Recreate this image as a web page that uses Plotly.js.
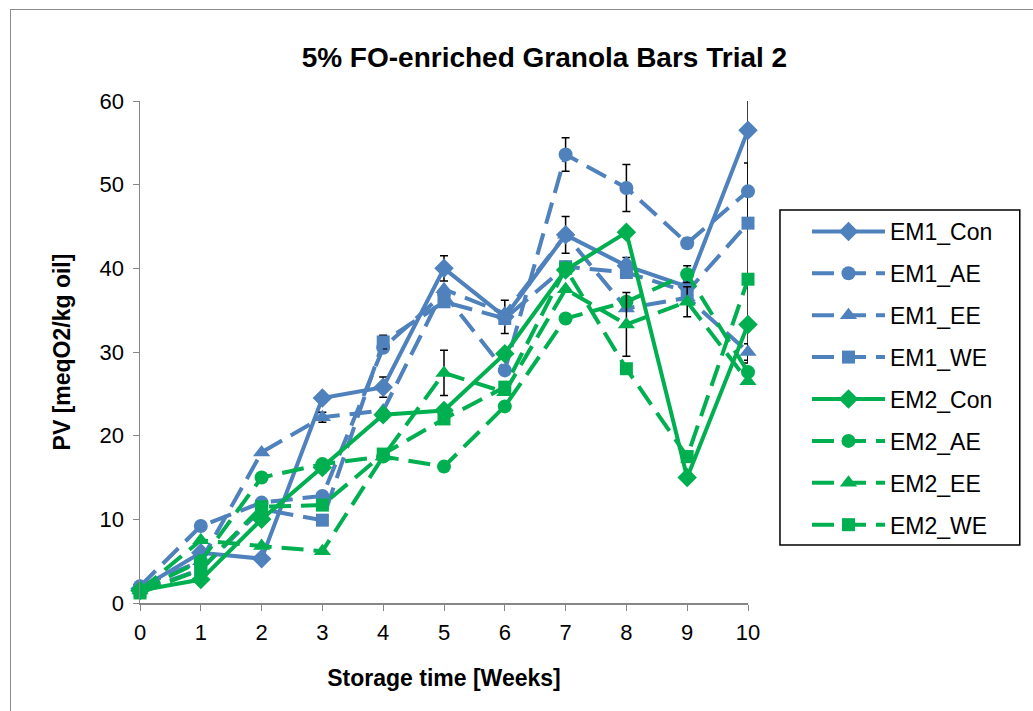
<!DOCTYPE html>
<html>
<head>
<meta charset="utf-8">
<script src="https://cdn.plot.ly/plotly-3.0.1.min.js"></script>
<style>
  html, body { margin: 0; padding: 0; background: #fff; }
  #wrap { position: relative; width: 1033px; height: 711px; overflow: hidden; }
  #chart { width: 1033px; height: 711px; }
  #frame { position: absolute; left: 10px; top: 9px; width: 1200px; height: 900px;
           border: 1px solid #8c8c8c; pointer-events: none; }
</style>
</head>
<body>
<div id="wrap"><div id="chart"></div><div id="frame"></div></div>
<script>
const weeks = [0, 1, 2, 3, 4, 5, 6, 7, 8, 9, 10];
const seriesNames = ["EM1_Con", "EM1_AE", "EM1_EE", "EM1_WE", "EM2_Con", "EM2_AE", "EM2_EE", "EM2_WE"];

const em1Con = [1.7, 6.0, 5.3, 24.5, 25.8, 40.0, 34.2, 44.0, 40.3, 37.8, 56.5];
const em1AE  = [2.0, 9.2, 12.0, 12.8, 30.5, 37.0, 27.8, 53.6, 49.6, 43.0, 49.2];
const em1EE  = [2.0, 5.0, 18.0, 22.2, 23.0, 37.5, 34.6, 44.0, 35.2, 36.5, 30.0];
const em1WE  = [1.5, 4.0, 11.2, 9.9, 31.2, 36.0, 34.0, 40.2, 39.5, 37.2, 45.4];
const em2Con = [1.5, 2.8, 10.0, 16.2, 22.5, 23.0, 29.8, 39.8, 44.3, 15.0, 33.3];
const em2AE  = [1.5, 5.0, 15.0, 16.6, 17.5, 16.3, 23.5, 34.0, 36.0, 39.3, 27.6];
const em2EE  = [1.5, 7.5, 6.8, 6.2, 17.5, 27.5, 25.2, 37.5, 33.3, 36.0, 26.5];
const em2WE  = [1.2, 4.0, 11.5, 11.7, 17.8, 22.0, 25.8, 40.0, 28.0, 17.5, 38.7];

const em1ConErr = [0, 0, 0, 0.5, 1.2, 1.5, 2.0, 2.2, 1.0, 0.8, 27.8];
const em1AEErr  = [0, 0, 0, 0, 0, 0, 0, 2.0, 2.8, 0.6, 3.4];
const em1EEErr  = [0, 0, 0, 0.6, 0, 0, 0, 0, 0, 0, 1.0];
const em1WEErr  = [0, 0, 0, 0, 0.8, 0, 0, 0, 0, 0, 0];
const em2ConErr = [0, 0, 0, 0.6, 0.6, 0, 0, 0, 0, 0, 0];
const em2AEErr  = [0, 0, 0.5, 0, 0, 0.5, 0, 0, 0, 1.0, 0];
const em2EEErr  = [0, 0, 0, 0, 0, 2.7, 0, 0, 3.8, 1.8, 0];
const em2WEErr  = [0, 0, 0, 0.5, 0, 0, 0, 0.5, 0, 0, 0];

const values = [em1Con, em1AE, em1EE, em1WE, em2Con, em2AE, em2EE, em2WE];
const errors = [em1ConErr, em1AEErr, em1EEErr, em1WEErr, em2ConErr, em2AEErr, em2EEErr, em2WEErr];

const BLUE = "#4f81bd";
const GREEN = "#00b050";
const colors = [BLUE, BLUE, BLUE, BLUE, GREEN, GREEN, GREEN, GREEN];
const symbols = ["diamond", "circle", "triangle-up", "square", "diamond", "circle", "triangle-up", "square"];
const sizes = [15, 14, 15, 13, 15, 14, 15, 13];
const dashes = ["solid", "22px,10px", "22px,10px", "22px,10px", "solid", "22px,10px", "22px,10px", "22px,10px"];

const traces = seriesNames.map((name, i) => ({
  type: "scatter",
  mode: "lines+markers",
  name: name,
  legendgroup: "g" + i,
  x: weeks,
  y: values[i],
  cliponaxis: false,
  line: { color: colors[i], width: 4, dash: dashes[i] },
  marker: { color: colors[i], symbol: symbols[i], size: sizes[i] },
  error_y: { type: "data", array: errors[i], visible: true, color: "#000", thickness: 1.5, width: 4 }
}));

const font = "'Liberation Sans', Arial, sans-serif";

const layout = {
  width: 1033,
  height: 711,
  margin: { l: 140, r: 285, t: 101, b: 108 },
  paper_bgcolor: "#fff",
  plot_bgcolor: "#fff",
  font: { family: font, color: "#000", size: 22 },
  showlegend: true,
  title: {
    text: "<b>5% FO-enriched Granola Bars Trial 2</b>",
    font: { family: font, size: 28, color: "#000" },
    x: 0.527, xanchor: "center", xref: "container",
    y: 0.92, yanchor: "middle", yref: "container"
  },
  xaxis: {
    range: [0, 10],
    tickmode: "array",
    tickvals: weeks,
    ticktext: weeks.map(String),
    showgrid: false,
    zeroline: false,
    showline: true,
    linecolor: "#868686",
    linewidth: 1.5,
    ticks: "outside",
    ticklen: 6,
    tickcolor: "#868686",
    ticklabelstandoff: 3,
    tickfont: { family: font, size: 22, color: "#000" },
    title: { text: "<b>Storage time [Weeks]</b>", font: { family: font, size: 23, color: "#000" }, standoff: 26 }
  },
  yaxis: {
    range: [0, 60],
    tickmode: "linear",
    tick0: 0,
    dtick: 10,
    showgrid: false,
    zeroline: false,
    showline: true,
    linecolor: "#868686",
    linewidth: 1.5,
    ticks: "outside",
    ticklen: 6,
    tickcolor: "#868686",
    ticklabelstandoff: 4,
    tickfont: { family: font, size: 22, color: "#000" },
    title: { text: "<b>PV [meqO2/kg oil]</b>", font: { family: font, size: 23, color: "#000" }, standoff: 22 }
  },
  legend: {
    x: 1.097, xanchor: "left",
    y: 0.783, yanchor: "top",
    borderwidth: 0,
    bgcolor: "rgba(0,0,0,0)",
    font: { family: font, size: 23, color: "#000" },
    tracegroupgap: 9,
    itemwidth: 73
  },
  shapes: [{
    type: "rect", xref: "paper", yref: "paper",
    x0: 1.0526, x1: 1.447, y0: 0.1155, y1: 0.783,
    line: { color: "#000", width: 1.5 }, fillcolor: "rgba(0,0,0,0)", layer: "below"
  }]
};

Plotly.newPlot("chart", traces, layout, { displayModeBar: false, staticPlot: true });
</script>
</body>
</html>
